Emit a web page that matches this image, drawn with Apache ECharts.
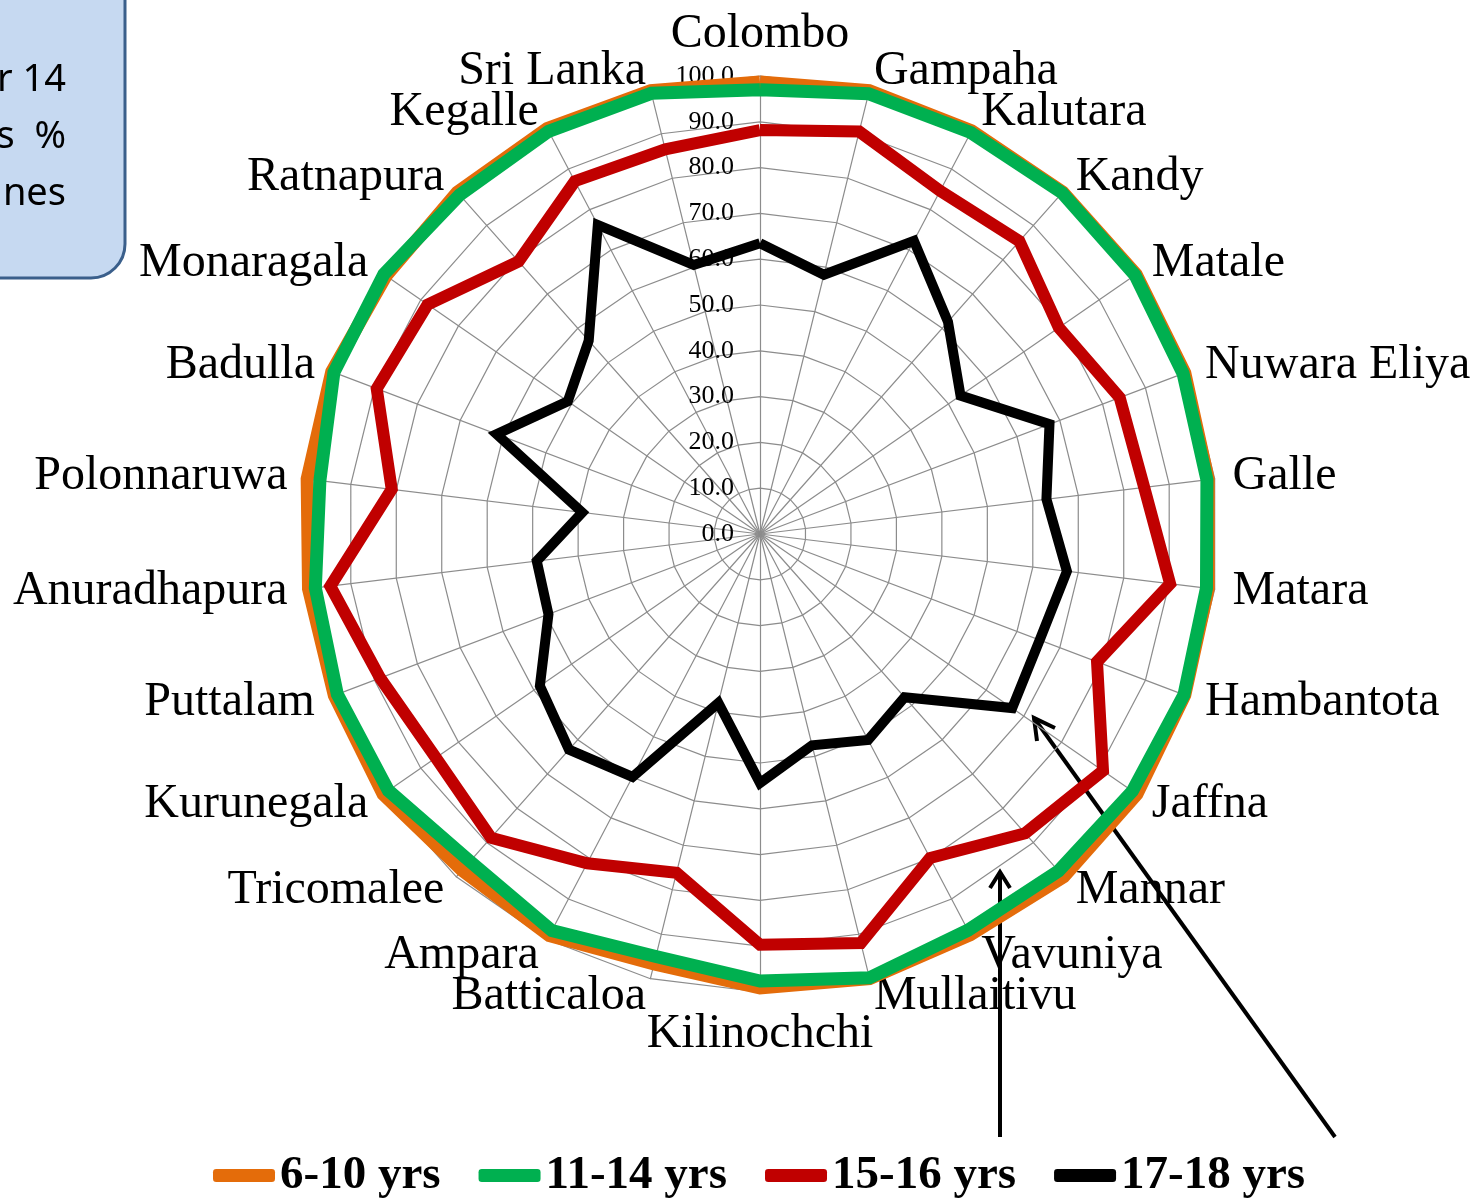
<!DOCTYPE html>
<html>
<head>
<meta charset="utf-8">
<script src="https://cdn.jsdelivr.net/npm/echarts@6/dist/echarts.min.js"></script>
<style>
html, body { margin: 0; padding: 0; background: #fff; }
#chart { width: 1484px; height: 1198px; }
</style>
</head>
<body>
<div id="chart"></div>
<script>
// districts, clockwise from the top
var districts = ['Colombo', 'Gampaha', 'Kalutara', 'Kandy', 'Matale', 'Nuwara Eliya', 'Galle', 'Matara',
    'Hambantota', 'Jaffna', 'Mannar', 'Vavuniya', 'Mullaitivu', 'Kilinochchi', 'Batticaloa', 'Ampara',
    'Tricomalee', 'Kurunegala', 'Puttalam', 'Anuradhapura', 'Polonnaruwa', 'Badulla', 'Monaragala',
    'Ratnapura', 'Kegalle', 'Sri Lanka'];

var age6to10 = [98.7, 99.7, 99.4, 99.7, 99.8, 99.2, 98.6, 98.6, 99.2, 100, 100, 98.8, 100,
    99.1, 96.7, 99.0, 98.1, 100, 99.4, 99.3, 99.6, 100, 99.2, 99.7, 100, 99.7];
var age11to14 = [97.0, 99.0, 99.0, 99.5, 99.5, 98.8, 98.3, 98.2, 99.0, 98.8, 98.3, 97.7, 99.8,
    97.6, 95.0, 97.8, 95.5, 98.6, 98.7, 97.8, 96.8, 99.5, 99.8, 98.9, 99.3, 99.1];
var age15to16 = [88.2, 90.5, 84.6, 85.4, 79.3, 84.0, 84.5, 90.2, 78.7, 91.0, 87.3, 79.9, 92.0,
    89.7, 76.2, 81.2, 88.6, 86.0, 88.7, 94.5, 81.0, 89.5, 88.2, 79.5, 87.0, 86.5];
var age17to18 = [63.5, 58.3, 72.3, 61.9, 53.2, 67.6, 63.0, 67.5, 65.3, 66.9, 47.6, 50.8, 47.5,
    54.4, 38.0, 59.9, 62.9, 58.4, 49.4, 49.1, 39.1, 61.5, 51.0, 56.4, 76.2, 60.5];

var seriesNames = ['6-10 yrs', '11-14 yrs', '15-16 yrs', '17-18 yrs'];
var seriesValues = [age6to10, age11to14, age15to16, age17to18];
var seriesColors = ['#e46c0a', '#00b050', '#c00000', '#000000'];
var lineWidths = [13, 13, 12, 10];

// echarts lays radar axes out counter-clockwise, so keep the first one
// and walk the rest backwards to get the clockwise order
function clockwise(arr) {
    return [arr[0]].concat(arr.slice(1).reverse());
}

var myChart = echarts.init(document.getElementById('chart'));

var serif = '"Liberation Serif", "Times New Roman", serif';

var option = {
    animation: false,
    backgroundColor: '#fff',
    legend: {
        data: seriesNames,
        bottom: -6,
        left: 208,
        icon: 'roundRect',
        itemWidth: 62,
        itemHeight: 13,
        itemGap: 38,
        textStyle: {
            fontFamily: serif,
            fontWeight: 'bold',
            fontSize: 47,
            color: '#000'
        }
    },
    radar: {
        center: [760, 534],
        radius: 458,
        startAngle: 90,
        shape: 'polygon',
        splitNumber: 10,
        nameGap: 18,
        axisName: {
            color: '#000',
            fontFamily: serif,
            fontSize: 48
        },
        axisLine: { lineStyle: { color: '#8c8c8c', width: 1.2 } },
        splitLine: { lineStyle: { color: '#8c8c8c', width: 1.2 } },
        splitArea: { show: false },
        axisTick: { show: false },
        axisLabel: {
            show: false,
            color: '#000',
            fontFamily: serif,
            fontSize: 26,
            margin: 26,
            formatter: function (v) { return v.toFixed(1); }
        },
        indicator: clockwise(districts).map(function (d, i) {
            var ind = { name: d, min: 0, max: 100 };
            if (i === 0) {
                ind.axisLabel = { show: true };
            }
            return ind;
        })
    },
    graphic: [
        {
            type: 'rect',
            shape: { x: -60, y: -40, width: 185, height: 318, r: 34 },
            style: { fill: '#c6d9f1', stroke: '#3a5f8b', lineWidth: 3 }
        },
        {
            type: 'text',
            style: {
                text: 'r 14\ns  %\nnes',
                x: 66, y: 52,
                align: 'right',
                font: '38px "Noto Sans", sans-serif',
                lineHeight: 57,
                fill: '#000'
            }
        },
        {
            type: 'polyline',
            shape: { points: [[1000, 1137], [1000, 872]] },
            style: { stroke: '#000', lineWidth: 4, fill: null }
        },
        {
            type: 'polyline',
            shape: { points: [[990, 888], [1000, 872], [1010, 888]] },
            style: { stroke: '#000', lineWidth: 4, fill: null }
        },
        {
            type: 'polyline',
            shape: { points: [[1335, 1137], [1034, 718]] },
            style: { stroke: '#000', lineWidth: 4, fill: null }
        },
        {
            type: 'polyline',
            shape: { points: [[1055, 728], [1034, 718], [1037, 741]] },
            style: { stroke: '#000', lineWidth: 4, fill: null }
        }
    ],
    series: seriesNames.map(function (name, k) {
        return {
            name: name,
            type: 'radar',
            symbol: 'none',
            itemStyle: { color: seriesColors[k] },
            lineStyle: { color: seriesColors[k], width: lineWidths[k], join: 'miter' },
            data: [{ name: name, value: clockwise(seriesValues[k]) }]
        };
    })
};

myChart.setOption(option);
</script>
</body>
</html>
